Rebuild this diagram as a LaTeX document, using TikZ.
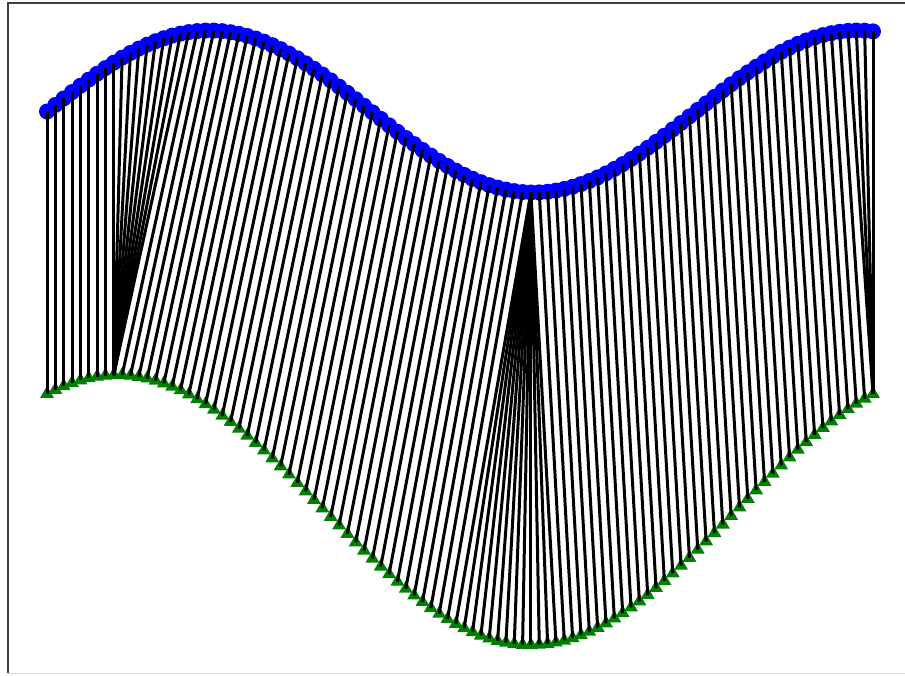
\documentclass[tikz,border=0pt]{standalone}
\usepackage{tikz}
\usetikzlibrary{shapes.geometric}

\begin{document}
\begin{tikzpicture}[
  x=1pt, y=-1pt,
  topdot/.style={circle, fill=blue, inner sep=0pt, minimum size=16pt},
  botdot/.style={regular polygon, regular polygon sides=3, fill=green!50!black,
                 inner sep=0pt, minimum size=16pt},
  link/.style={draw, black, line width=3pt},
  frame/.style={draw, black!75, line width=1.2pt}
]
  \useasboundingbox (0,0) rectangle (905,675);

  % axes frame
  \draw[frame] (905,3) -- (8,3) -- (8,673);
  \draw[black!15, line width=1pt] (8,673) -- (905,673);

  % the two series
  \foreach \i in {0,...,99} {
    \pgfmathsetmacro\xx{47+\i*8.3434}
    \pgfmathsetmacro\yt{111.5-81*sin(deg(\i*0.080808))}
    \pgfmathsetmacro\yb{510-135*sin(deg(1.035+0.063467*\i))}
    \node[topdot] (t\i) at (\xx,\yt) {};
    \node[botdot] (b\i) at (\xx,\yb) {};
  }

  % warping path
  \foreach \i in {0,...,8}
    \draw[link] (t\i.center) -- (b\i.center);
  \foreach \i in {9,...,17}
    \draw[link] (t\i.center) -- (b8.center);
  \foreach \i [evaluate=\i as \j using int(\i-9)] in {18,...,58}
    \draw[link] (t\i.center) -- (b\j.center);
  \foreach \j in {50,...,61}
    \draw[link] (t58.center) -- (b\j.center);
  \foreach \i [evaluate=\i as \j using int(\i+3)] in {59,...,96}
    \draw[link] (t\i.center) -- (b\j.center);
  \foreach \i in {97,98,99}
    \draw[link] (t\i.center) -- (b99.center);
\end{tikzpicture}
\end{document}
